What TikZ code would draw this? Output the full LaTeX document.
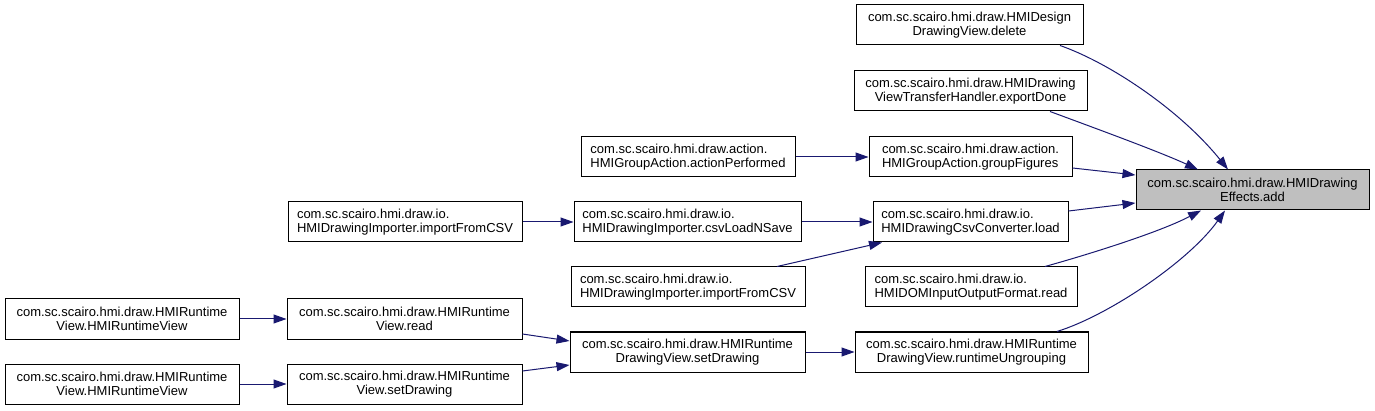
\documentclass[tikz,border=0pt]{standalone}
\usepackage{fontspec}
\setmainfont{Liberation Sans}
\usetikzlibrary{arrows.meta,calc}
\definecolor{edgeblue}{HTML}{191970}
\definecolor{addgray}{HTML}{BFBFBF}
\begin{document}
\begin{tikzpicture}[x=1pt,y=-1pt,
  box/.style={draw=black,line width=1pt,fill=white,minimum height=40pt,inner sep=0pt,font=\fontsize{13}{14.5}\selectfont},
  lbox/.style={box,align=left},
  cbox/.style={box,align=center},
  call/.style={draw=edgeblue,line width=1pt,-{Triangle[length=13pt,width=9pt]}}]
\fill[white] (0,0) rectangle (1375,411);
\useasboundingbox (0,0) rectangle (1375,411);
% column 5
\node[cbox,fill=addgray,minimum width=233pt] (add) at (1252.5,190) {com.sc.scairo.hmi.draw.HMIDrawing\\Effects.add};
% column 4
\node[cbox,minimum width=227pt] (del) at (969.5,25) {com.sc.scairo.hmi.draw.HMIDesign\\DrawingView.delete};
\node[cbox,minimum width=233pt] (exp) at (970.5,91) {com.sc.scairo.hmi.draw.HMIDrawing\\ViewTransferHandler.exportDone};
\node[lbox,minimum width=203pt] (grp) at (970.5,157) {com.sc.scairo.hmi.draw.action.\\HMIGroupAction.groupFigures};
\node[lbox,minimum width=195pt] (load) at (970.5,222) {com.sc.scairo.hmi.draw.io.\\HMIDrawingCsvConverter.load};
\node[lbox,minimum width=212pt] (dom) at (971,287) {com.sc.scairo.hmi.draw.io.\\HMIDOMInputOutputFormat.read};
\node[cbox,minimum width=233pt] (ung) at (971.5,352) {com.sc.scairo.hmi.draw.HMIRuntime\\DrawingView.runtimeUngrouping};
% column 3
\node[lbox,minimum width=214pt] (act) at (688,157) {com.sc.scairo.hmi.draw.action.\\HMIGroupAction.actionPerformed};
\node[lbox,minimum width=227pt] (csv) at (687.5,222) {com.sc.scairo.hmi.draw.io.\\HMIDrawingImporter.csvLoadNSave};
\node[lbox,minimum width=234pt] (imp2) at (688,287) {com.sc.scairo.hmi.draw.io.\\HMIDrawingImporter.importFromCSV};
\node[cbox,minimum width=235pt] (rdv) at (687.5,352) {com.sc.scairo.hmi.draw.HMIRuntime\\DrawingView.setDrawing};
% column 2
\node[lbox,minimum width=234pt] (imp1) at (405,222) {com.sc.scairo.hmi.draw.io.\\HMIDrawingImporter.importFromCSV};
\node[cbox,minimum width=235pt] (rread) at (404.5,319) {com.sc.scairo.hmi.draw.HMIRuntime\\View.read};
\node[cbox,minimum width=235pt] (rset) at (404.5,384) {com.sc.scairo.hmi.draw.HMIRuntime\\View.setDrawing};
% column 1
\node[cbox,minimum width=234pt] (rv1) at (122,319) {com.sc.scairo.hmi.draw.HMIRuntime\\View.HMIRuntimeView};
\node[cbox,minimum width=234pt] (rv2) at (122,384) {com.sc.scairo.hmi.draw.HMIRuntime\\View.HMIRuntimeView};
% connectors into add
\draw[call] (del.south -| 1060,0) .. controls (1110,63) and (1180,110) .. (add.north -| 1228,0);
\draw[call] (exp.south -| 1050,0) .. controls (1100,130) and (1160,152) .. (add.north -| 1198,0);
\draw[call] (grp.east |- 0,168) -- (add.west |- 0,175);
\draw[call] (load.east |- 0,211) -- (add.west |- 0,203);
\draw[call] (dom.north -| 1045,0) .. controls (1090,254) and (1160,232) .. (add.south -| 1201,0);
\draw[call] (ung.north -| 1057,0) .. controls (1110,315) and (1190,260) .. (add.south -| 1225,0);
% other connectors
\draw[call] (act.east) -- (grp.west);
\draw[call] (csv.east) -- (load.west);
\draw[call] (imp1.east) -- (csv.west);
\draw[call] (imp2.north -| 777,0) -- (load.south -| 882,0);
\draw[call] (rread.east |- 0,334) -- (rdv.west |- 0,341);
\draw[call] (rset.east |- 0,371) -- (rdv.west |- 0,365);
\draw[call] (rv1.east) -- (rread.west);
\draw[call] (rv2.east) -- (rset.west);
\draw[call] (rdv.east) -- (ung.west);
\end{tikzpicture}
\end{document}
